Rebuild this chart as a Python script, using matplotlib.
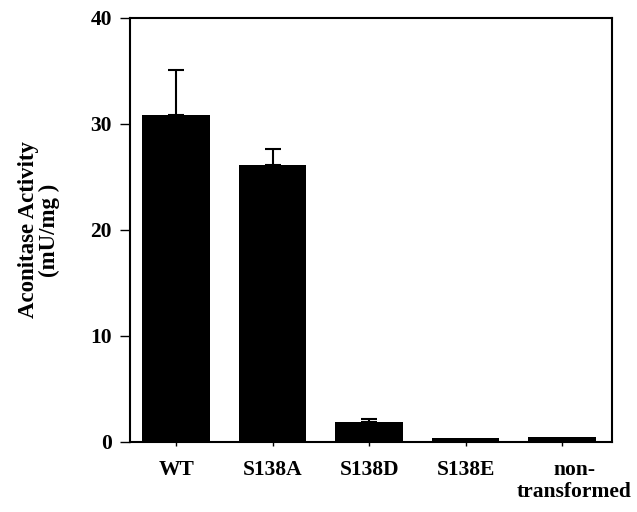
import matplotlib.pyplot as plt
import matplotlib.transforms as mtransforms
import numpy as np

# data
groups = ['WT', 'S138A', 'S138D', 'S138E', 'non-\ntransformed']
activity = [30.8, 26.1, 1.9, 0.4, 0.45]
err_up = [4.3, 1.5, 0.3, 0.0, 0.0]

plt.rcParams['font.family'] = ['Liberation Serif', 'DejaVu Serif']
plt.rcParams['font.weight'] = 'bold'

fig = plt.figure(figsize=(6.37, 5.12), dpi=100)
ax = fig.add_axes([0.204, 0.137, 0.757, 0.828])

x = np.arange(len(groups))
ax.bar(x, activity, width=0.7, color='black')
yerr = np.array([np.zeros(len(err_up)), err_up])
ax.errorbar(x[:3], activity[:3], yerr=yerr[:, :3], fmt='none', ecolor='black',
            elinewidth=1.5, capsize=6, capthick=1.5)

ax.set_xlim(-0.48, 4.52)
ax.set_ylim(0, 40)
ax.set_yticks([0, 10, 20, 30, 40])
ax.set_xticks(x)
ax.set_xticklabels(groups, fontsize=15.5, fontweight='bold', linespacing=1.15)
for lbl in ax.get_yticklabels():
    lbl.set_fontsize(15.5)
    lbl.set_fontweight('bold')
ax.tick_params(axis='y', direction='out', length=7, width=1, pad=6)
ax.tick_params(axis='x', direction='out', length=3, width=1, pad=10)

# last label sits a bit to the right in the original
last = ax.get_xticklabels()[-1]
last.set_transform(last.get_transform() +
                   mtransforms.ScaledTranslation(12 / 100, 0, fig.dpi_scale_trans))

for s in ax.spines.values():
    s.set_linewidth(1.5)

ax.set_ylabel('Aconitase Activity\n(mU/mg )', fontsize=16.5, fontweight='bold',
              labelpad=22, linespacing=1.0)

fig.savefig('out.png', dpi=100)
